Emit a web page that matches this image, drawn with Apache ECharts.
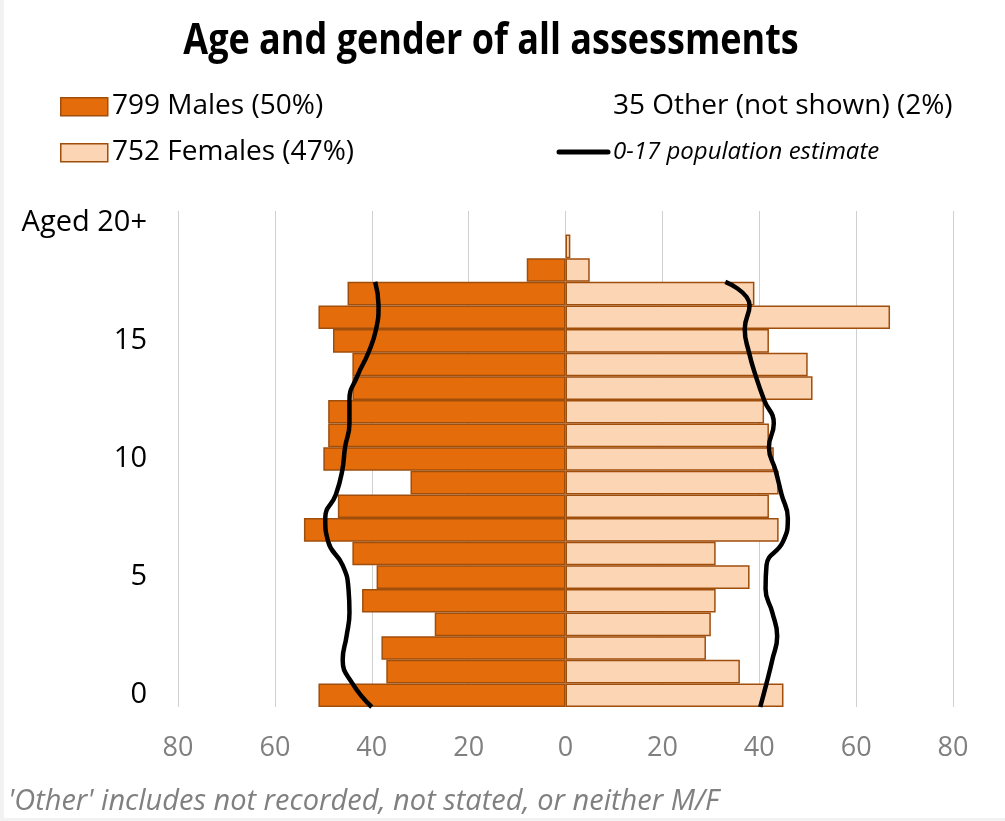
<!DOCTYPE html>
<html>
<head>
<meta charset="utf-8">
<script src="https://cdn.jsdelivr.net/npm/echarts@6/dist/echarts.min.js"></script>
<style>
html,body{margin:0;padding:0;background:#fff;}
#chart{width:1005px;height:821px;}
</style>
</head>
<body>
<div id="chart"></div>
<script>
// ---- data ----
const ageCategories = ['0','1','2','3','4','5','6','7','8','9','10','11','12','13','14','15','16','17','18','19','Aged 20+'];
const ageLabelsShown = ['0','5','10','15','Aged 20+'];
const males =   [51,37,38,27,42,39,44,54,47,32,50,49,49,44,44,48,51,45,8,0,0];
const females = [45,36,29,30,31,38,31,44,42,44,43,42,41,51,50,42,67,39,5,1,0];
// population estimate sampled at age boundaries 0..18
const popBoundaries = [0,1,2,3,4,5,6,7,8,9,10,11,12,13,14,15,16,17,18];
const popMale =   [40,44,46,45.2,44.6,44.8,46,49,49.6,47.4,46.1,45.5,44.6,44.6,43,40.7,39.1,38.6,39.3];
const popFemale = [40.2,41.5,42.7,43.7,42.7,41.3,41.5,44.9,45.9,44.6,43.4,42,43,41,39.3,37.9,37,38,33];
const xTicks = [-80,-60,-40,-20,0,20,40,60,80];

const titleText = 'Age and gender of all assessments';
const maleLegend = '799 Males (50%)';
const femaleLegend = '752 Females (47%)';
const otherLegend = '35 Other (not shown) (2%)';
const popLegend = '0-17 population estimate';
const footnote = "'Other' includes not recorded, not stated, or neither M/F";

const MALE = '#E46C0A', FEMALE = '#FCD5B5', EDGE = '#A04E0C';
const FONT = '"Open Sans", "Noto Sans", sans-serif';

const chart = echarts.init(document.getElementById('chart'), null, {renderer:'canvas'});
chart.setOption({
  backgroundColor: '#fff',
  animation: false,
  textStyle: {fontFamily: FONT},
  grid: {left: 178, right: 52, top: 211, bottom: 114, containLabel: false},
  xAxis: {
    type: 'value', min: -80, max: 80, interval: 20,
    axisLine: {show: false}, axisTick: {show: false},
    splitLine: {show: true, lineStyle: {color: '#d0d0d0', width: 1}},
    axisLabel: {color: '#7f7f7f', fontSize: 27, margin: 28, fontFamily: FONT,
      formatter: v => xTicks.includes(v) ? String(Math.abs(v)) : ''}
  },
  yAxis: [{
    type: 'category', data: ageCategories, boundaryGap: true,
    axisLine: {show: false}, axisTick: {show: false},
    axisLabel: {color: '#000', fontSize: 29, margin: 31, fontFamily: FONT, interval: 0,
      formatter: v => ageLabelsShown.includes(v) ? v : ''}
  }, {
    type: 'value', min: -0.5, max: ageCategories.length - 0.5, show: false
  }],
  series: [{
    type: 'bar', name: 'Males', yAxisIndex: 0,
    data: males.map(v => v === 0 ? '-' : -v),
    barWidth: '100%', barGap: '-100%',
    itemStyle: {color: MALE, borderColor: EDGE, borderWidth: 1.5}
  }, {
    type: 'bar', name: 'Females', yAxisIndex: 0,
    data: females.map(v => v === 0 ? '-' : v),
    barWidth: '100%', barGap: '-100%',
    itemStyle: {color: FEMALE, borderColor: EDGE, borderWidth: 1.5}
  }, {
    type: 'line', name: 'popMale', yAxisIndex: 1, smooth: 0.5, symbol: 'none',
    data: popMale.map((v, i) => [-v, popBoundaries[i] - 0.5]),
    lineStyle: {color: '#000', width: 4.5}, z: 5
  }, {
    type: 'line', name: 'popFemale', yAxisIndex: 1, smooth: 0.5, symbol: 'none',
    data: popFemale.map((v, i) => [v, popBoundaries[i] - 0.5]),
    lineStyle: {color: '#000', width: 4.5}, z: 5
  }],
  graphic: [
    {type: 'rect', left: 0, top: 0, shape: {width: 4, height: 821}, style: {fill: '#f2f2f2'}, silent: true},
    {type: 'rect', left: 0, top: 818, shape: {width: 1005, height: 3}, style: {fill: '#f2f2f2'}, silent: true},
    {type: 'text', x: 491, y: 42, scaleY: 1.2,
      style: {text: titleText, x: 0, y: 0, align: 'center', verticalAlign: 'middle', font: 'bold 36px ' + FONT, fill: '#000'}},
    {type: 'rect', left: 60, top: 97, shape: {width: 47, height: 18}, style: {fill: MALE, stroke: EDGE, lineWidth: 1.5}},
    {type: 'text', x: 112, y: 106, style: {text: maleLegend, x: 0, y: 0, verticalAlign: 'middle', font: '28px ' + FONT, fill: '#000'}},
    {type: 'rect', left: 60, top: 143, shape: {width: 47, height: 18}, style: {fill: FEMALE, stroke: EDGE, lineWidth: 1.5}},
    {type: 'text', x: 112, y: 152, style: {text: femaleLegend, x: 0, y: 0, verticalAlign: 'middle', font: '28px ' + FONT, fill: '#000'}},
    {type: 'text', x: 613, y: 106, style: {text: otherLegend, x: 0, y: 0, verticalAlign: 'middle', font: '28px ' + FONT, fill: '#000'}},
    {type: 'line', shape: {x1: 559, y1: 152, x2: 608, y2: 152}, style: {stroke: '#000', lineWidth: 5, lineCap: 'round'}},
    {type: 'text', x: 613, y: 152, style: {text: popLegend, x: 0, y: 0, verticalAlign: 'middle', font: 'italic 24px ' + FONT, fill: '#000'}},
    {type: 'text', x: 8, y: 802, style: {text: footnote, x: 0, y: 0, verticalAlign: 'middle', font: 'italic 29px ' + FONT, fill: '#808080'}}
  ]
});
</script>
</body>
</html>
